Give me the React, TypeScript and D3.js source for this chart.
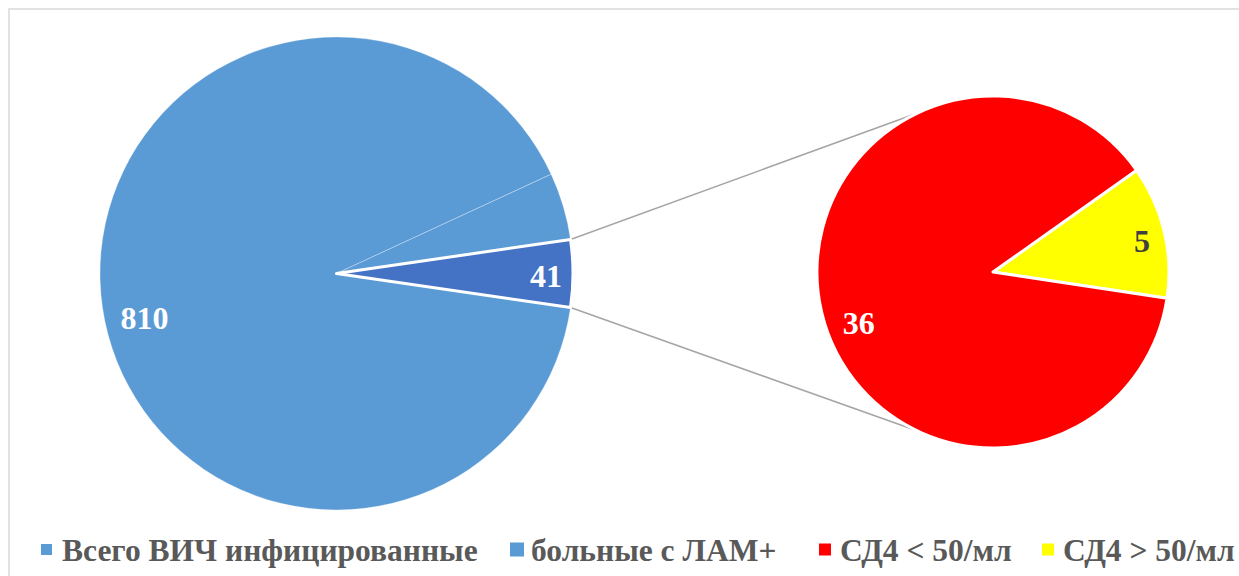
import React from "react";
import * as d3 from "d3";

// ---- data ----
const legendLabels = ["Всего ВИЧ инфицированные", "больные с ЛАМ+", "СД4 < 50/мл", "СД4 > 50/мл"];
const mainValues = [810, 41]; // Всего ВИЧ, больные с ЛАМ+
const secondaryValues = [36, 5]; // СД4 < 50, СД4 > 50
const secondaryLabels = ["36", "5"];

// ---- layout / style ----
const W = 1239;
const H = 576;
const FONT = "Liberation Serif, DejaVu Serif, Noto Serif, serif";
const mainC = { x: 336.5, y: 273.5, r: 236.5 };
const secC = { x: 993, y: 272, r: 176 };
const blue = "#5B9BD5";
const otherBlue = "#4472C4";
const red = "#FF0000";
const yellow = "#FFFF00";
const legendX = [41, 510, 819, 1042];
const legendSq = [11, 14, 12, 12];
const legendColors = [blue, blue, red, yellow];
const deg = Math.PI / 180;

export default function App() {
  const otherSum = d3.sum(secondaryValues);
  const total = d3.sum(mainValues) + otherSum;
  const otherSpan = (otherSum / total) * 2 * Math.PI;
  const mainData = [
    { key: "other", value: otherSum, color: otherBlue },
    { key: "all", value: mainValues[0], color: blue },
    { key: "lam", value: mainValues[1], color: blue },
  ];
  const mainPie = d3
    .pie<any>()
    .sort(null)
    .value((d) => d.value)
    .startAngle(Math.PI / 2 - otherSpan / 2)
    .endAngle(Math.PI / 2 - otherSpan / 2 + 2 * Math.PI);
  const mainArcs = mainPie(mainData);
  const mainArc = d3.arc<any>().innerRadius(0).outerRadius(mainC.r);

  const secData = [
    { key: "gt", value: secondaryValues[1], color: yellow, label: secondaryLabels[1], fill: "#404040" },
    { key: "lt", value: secondaryValues[0], color: red, label: secondaryLabels[0], fill: "#FFFFFF" },
  ];
  const secStart = 54.7 * deg;
  const secPie = d3
    .pie<any>()
    .sort(null)
    .value((d) => d.value)
    .startAngle(secStart)
    .endAngle(secStart + 2 * Math.PI);
  const secArcs = secPie(secData);
  const secArc = d3.arc<any>().innerRadius(0).outerRadius(secC.r);

  const polar = (cx: number, cy: number, r: number, a: number) => [cx + r * Math.sin(a), cy - r * Math.cos(a)];

  const otherArc = mainArcs[0];
  const connTopA = -25.6 * deg;
  const connBotA = 205.6 * deg;
  const p1 = polar(mainC.x, mainC.y, mainC.r, otherArc.startAngle);
  const p2 = polar(secC.x, secC.y, secC.r, connTopA);
  const p3 = polar(mainC.x, mainC.y, mainC.r, otherArc.endAngle);
  const p4 = polar(secC.x, secC.y, secC.r, connBotA);

  const mid = (a: any) => (a.startAngle + a.endAngle) / 2;
  const mainLabelCfg: Record<string, { rf: number; dy: number; text: string } | null> = {
    other: { rf: 0.886, dy: 2.5, text: String(otherSum) },
    all: { rf: 0.82, dy: 17, text: String(mainValues[0]) },
    lam: null,
  };
  const secLabelCfg: Record<string, { rf: number; dy: number }> = {
    lt: { rf: 0.784, dy: 19 },
    gt: { rf: 0.87, dy: 4.6 },
  };

  return (
    <svg
      width={W}
      height={H}
      style={{ position: "absolute", left: 0, top: 0, background: "#fff", fontFamily: FONT }}
    >
      <rect x={9} y={9} width={W + 20} height={H + 20} fill="#fff" stroke="#D9D9D9" strokeWidth={1.5} />

      {/* connector lines */}
      <line x1={p1[0]} y1={p1[1]} x2={p2[0]} y2={p2[1]} stroke="#A6A6A6" strokeWidth={1.6} />
      <line x1={p3[0]} y1={p3[1]} x2={p4[0]} y2={p4[1]} stroke="#A6A6A6" strokeWidth={1.6} />

      {/* main pie */}
      <g transform={`translate(${mainC.x},${mainC.y})`}>
        {mainArcs
          .filter((a) => a.data.key !== "other")
          .map((a) => (
            <path key={a.data.key} d={mainArc(a) as string} fill={a.data.color} stroke="#ffffff" strokeOpacity={0.5} strokeWidth={0.6} />
          ))}
        <path d={mainArc(otherArc) as string} fill={otherBlue} stroke="#ffffff" strokeWidth={3} strokeLinejoin="round" />
        {mainArcs.map((a) => {
          const cfg = mainLabelCfg[a.data.key];
          if (!cfg) return null;
          const [x, y] = polar(0, 0, mainC.r * cfg.rf, mid(a));
          return (
            <text key={a.data.key} x={x} y={y + cfg.dy + 11} textAnchor="middle" fontSize={32} fontWeight="bold" fill="#FFFFFF" style={{ fontFamily: FONT }}>
              {cfg.text}
            </text>
          );
        })}
      </g>

      {/* secondary pie */}
      <g transform={`translate(${secC.x},${secC.y})`}>
        {secArcs.map((a) => (
          <path key={a.data.key} d={secArc(a) as string} fill={a.data.color} stroke="#ffffff" strokeWidth={3} strokeLinejoin="round" />
        ))}
        {secArcs.map((a) => {
          const cfg = secLabelCfg[a.data.key];
          const [x, y] = polar(0, 0, secC.r * cfg.rf, mid(a));
          return (
            <text key={a.data.key} x={x} y={y + cfg.dy + 11} textAnchor="middle" fontSize={32} fontWeight="bold" fill={a.data.fill} style={{ fontFamily: FONT }}>
              {a.data.label}
            </text>
          );
        })}
      </g>

      {/* legend */}
      <g>
        {legendLabels.map((lab, i) => (
          <g key={lab}>
            <rect
              x={legendX[i]}
              y={549.5 - legendSq[i] / 2}
              width={legendSq[i]}
              height={legendSq[i]}
              fill={legendColors[i]}
            />
            <text x={legendX[i] + 21} y={561} fontSize={31.5} fontWeight="bold" fill="#595959" style={{ fontFamily: FONT }}>
              {lab}
            </text>
          </g>
        ))}
      </g>
    </svg>
  );
}
